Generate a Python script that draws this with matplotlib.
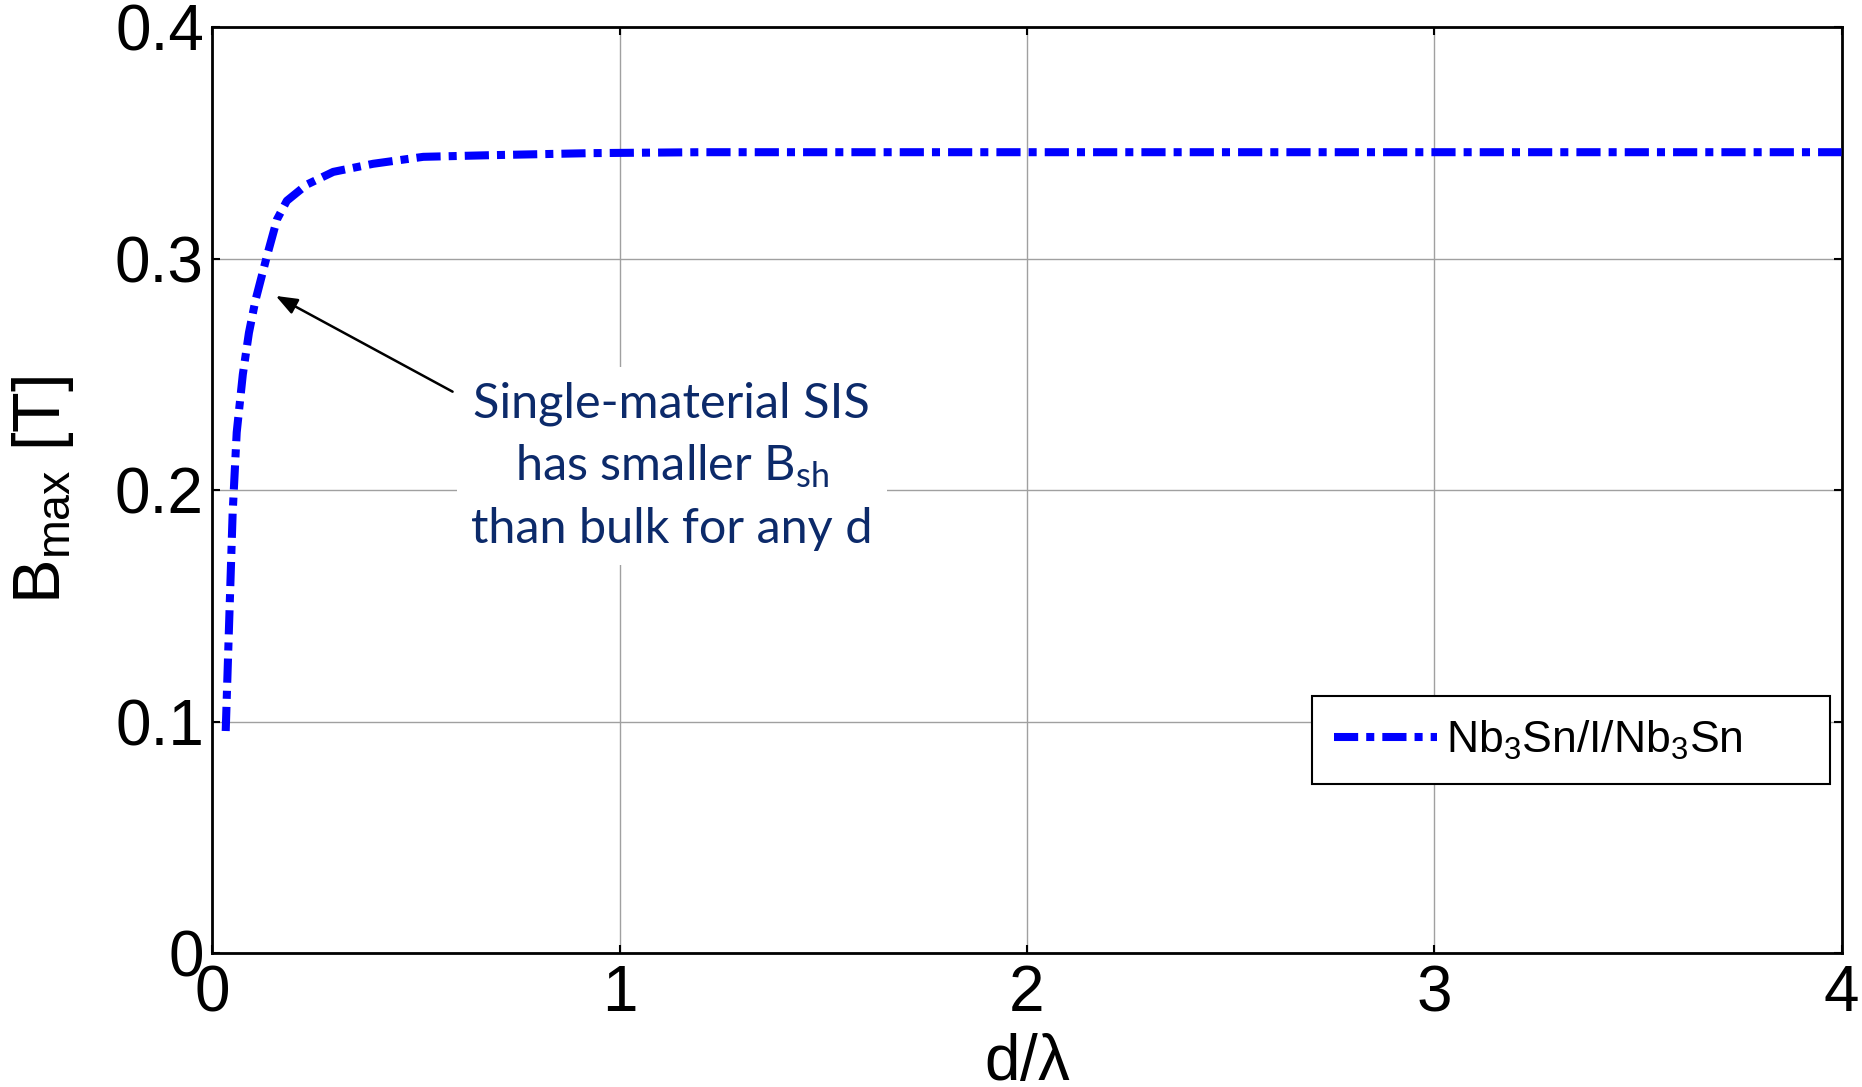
import matplotlib
matplotlib.use("Agg")
import matplotlib.pyplot as plt

# B_max vs d/lambda for Nb3Sn/I/Nb3Sn
d_lambda = [0.033, 0.040, 0.050, 0.060, 0.075, 0.090, 0.106, 0.134, 0.159, 0.183,
            0.232, 0.297, 0.395, 0.518, 0.680, 0.930, 1.2, 2.0, 3.0, 4.0]
b_max = [0.096, 0.135, 0.190, 0.225, 0.250, 0.268, 0.282, 0.301, 0.317, 0.325,
         0.332, 0.3375, 0.341, 0.344, 0.3447, 0.3456, 0.346, 0.346, 0.346, 0.346]
series_label = r"Nb$_3$Sn/I/Nb$_3$Sn      "
x_ticks = [0, 1, 2, 3, 4]
y_ticks = [0, 0.1, 0.2, 0.3, 0.4]
y_ticklabels = ["0", "0.1", "0.2", "0.3", "0.4"]
note = "Single-material SIS\nhas smaller B$_{sh}$\nthan bulk for any d"

plt.rcParams['font.family'] = ['Liberation Sans', 'DejaVu Sans']
plt.rcParams['mathtext.default'] = 'regular'

fig = plt.figure(figsize=(18.62, 10.87), dpi=100)
ax = fig.add_axes([0.114, 0.123, 0.875, 0.852])

ax.plot(d_lambda, b_max, color='#0000ff', lw=5.8, dashes=(3, 1, 1, 1),
        dash_capstyle='butt', label=series_label, zorder=3)

ax.set_xlim(0, 4)
ax.set_ylim(0, 0.4)
ax.set_xticks(x_ticks)
ax.set_yticks(y_ticks)
ax.set_yticklabels(y_ticklabels)
ax.tick_params(direction='in', length=6, width=1.5, labelsize=46,
               top=True, right=True)
ax.tick_params(axis='x', pad=8)
ax.tick_params(axis='y', pad=6)
ax.grid(True, color='#a0a0a0', lw=1.0)
for s in ax.spines.values():
    s.set_linewidth(2)

ax.set_xlabel(r"d/$\lambda$", fontsize=46, labelpad=6)
ax.set_ylabel(r"B$_{max}$ [T]", fontsize=48, labelpad=28)

# arrow + note
ax.annotate('', xy=(0.150, 0.2845), xytext=(0.596, 0.242),
            arrowprops=dict(arrowstyle='-|>,head_length=1.3,head_width=0.5',
                            color='black', lw=1.8, fc='black'))
ax.text(1.128, 0.2105, note, fontsize=35, color='#0c2a6a', ha='center', va='center',
        family=['Lato', 'DejaVu Sans'], linespacing=1.45,
        bbox=dict(facecolor='white', edgecolor='none', pad=10), zorder=4)

leg = ax.legend(loc='lower right', bbox_to_anchor=(0.993, 0.183), fontsize=32,
                fancybox=False, edgecolor='black', framealpha=1, handlelength=2.3,
                handletextpad=0.22, borderpad=0.5, borderaxespad=0)
leg.get_frame().set_linewidth(1.5)

fig.savefig("out.png", dpi=100)
